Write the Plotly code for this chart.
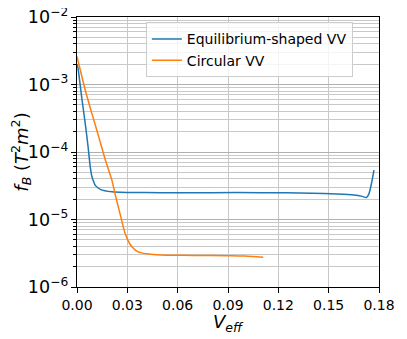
import plotly.graph_objects as go

# values
eq_x = [0.0, 0.0006, 0.0030, 0.0049, 0.0066, 0.0079, 0.0089, 0.0100, 0.0109, 0.0139, 0.0209,
        0.030, 0.050, 0.080, 0.110, 0.140, 0.155, 0.165, 0.170, 0.1725, 0.1740, 0.1755, 0.1770]
eq_y = [2.0e-3, 1.74e-3, 5.9e-4, 2.66e-4, 1.2e-4, 6.0e-5, 4.3e-5, 3.6e-5, 3.2e-5, 2.8e-5, 2.57e-5,
        2.52e-5, 2.5e-5, 2.5e-5, 2.5e-5, 2.45e-5, 2.38e-5, 2.3e-5, 2.2e-5, 2.12e-5, 2.4e-5, 3.4e-5, 5.4e-5]

circ_x = [0.0, 0.0049, 0.0089, 0.0129, 0.0169, 0.0207, 0.0226, 0.0256, 0.0286, 0.0316, 0.0336, 0.0356,
          0.0385, 0.0415, 0.0470, 0.0535, 0.070, 0.090, 0.100, 0.105, 0.111]
circ_y = [2.6e-3, 8.3e-4, 3.7e-4, 1.7e-4, 7.6e-5, 3.9e-5, 2.45e-5, 1.23e-5, 6.3e-6, 4.3e-6, 3.75e-6, 3.4e-6,
          3.2e-6, 3.1e-6, 3.0e-6, 2.95e-6, 2.94e-6, 2.9e-6, 2.87e-6, 2.82e-6, 2.75e-6]

x_ticks = [0.0, 0.03, 0.06, 0.09, 0.12, 0.15, 0.18]

fig = go.Figure()
fig.add_trace(go.Scatter(x=eq_x, y=eq_y, mode="lines", name="Equilibrium-shaped VV",
                         line=dict(color="#1f77b4", width=1.5, shape="spline", smoothing=0.6)))
fig.add_trace(go.Scatter(x=circ_x, y=circ_y, mode="lines", name="Circular VV",
                         line=dict(color="#ff7f0e", width=1.5, shape="spline", smoothing=0.6)))

# page body adds 8px on the left/top, so the figure is 8px smaller
fig.update_layout(
    width=399, height=331,
    margin=dict(l=69, r=28, t=9, b=52),
    plot_bgcolor="white", paper_bgcolor="white",
    font=dict(family="DejaVu Sans", size=14, color="black"),
    showlegend=True,
    legend=dict(x=0.228, y=0.98, xanchor="left", yanchor="top",
                bgcolor="rgba(255,255,255,0.8)", bordercolor="#cccccc", borderwidth=1,
                font=dict(size=14), itemwidth=30, tracegroupgap=0),
)
# x title as annotation so it sits where the reference puts it
fig.add_annotation(text="<i>V</i><sub><i>eff</i></sub>", xref="paper", yref="paper",
                   x=0.5, y=-0.08, xanchor="center", yanchor="top",
                   showarrow=False, font=dict(size=18))
fig.update_xaxes(
    range=[0, 0.18], tickvals=x_ticks, tickformat=".2f", automargin=False,
    showline=True, mirror=True, linecolor="black", linewidth=1,
    ticks="outside", ticklen=5, tickcolor="black", ticklabeloverflow="allow",
    showgrid=True, gridcolor="#c8c8c8", gridwidth=1, zeroline=False,
)
fig.update_yaxes(
    type="log", range=[-6, -2], dtick=1, exponentformat="power", automargin=False,
    showline=True, mirror=True, linecolor="black", linewidth=1,
    ticks="outside", ticklen=5, tickcolor="black", ticklabeloverflow="allow",
    showgrid=True, gridcolor="#b0b0b0", gridwidth=1, zeroline=False,
    minor=dict(dtick="D1", ticks="outside", ticklen=3, tickcolor="black",
               showgrid=True, gridcolor="#c8c8c8", gridwidth=1),
    title=dict(text="<i>f</i><sub><i>B</i></sub> (<i>T</i><sup>2</sup><i>m</i><sup>2</sup>)",
               font=dict(size=18), standoff=4),
)

fig.write_html("out.html")
